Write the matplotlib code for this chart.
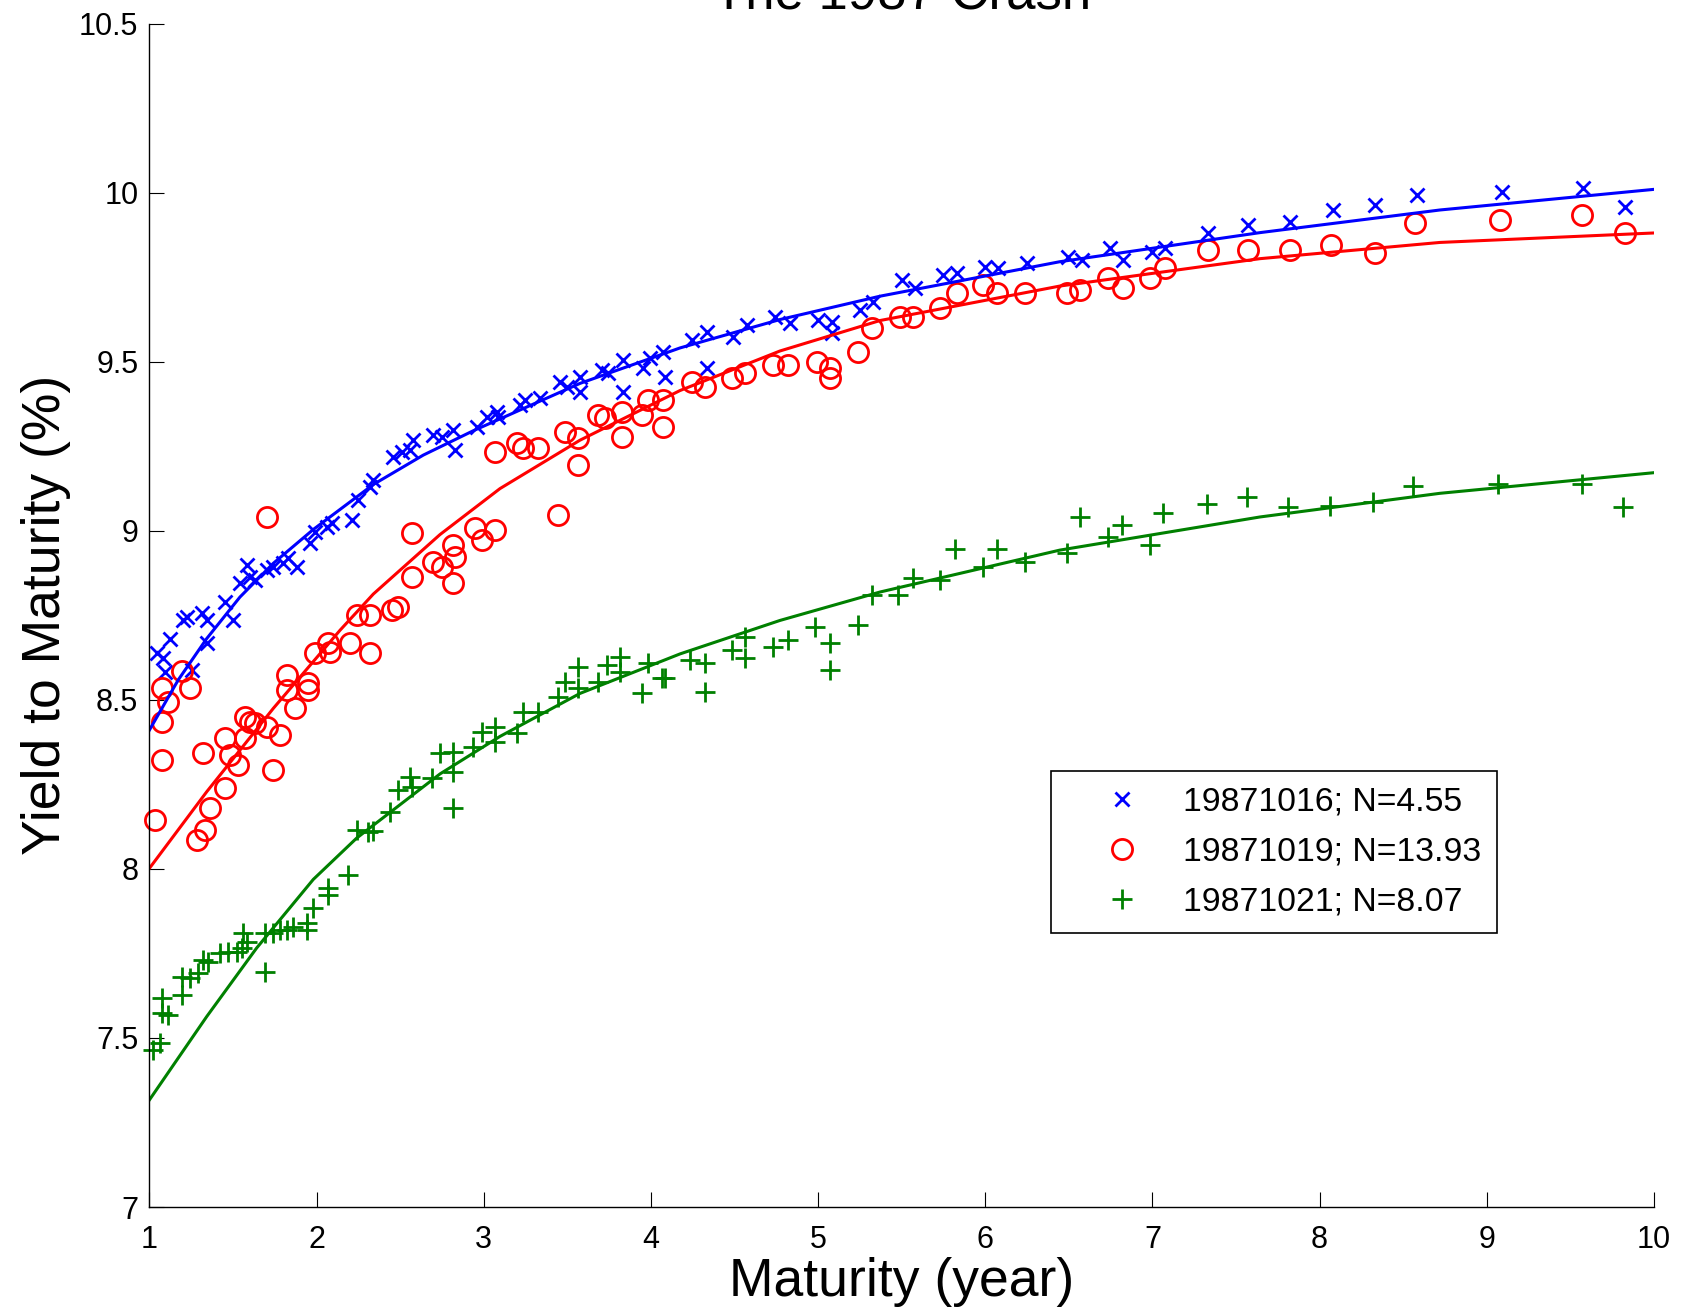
import matplotlib
matplotlib.use("Agg")
import matplotlib.pyplot as plt

plt.rcParams['font.family'] = ['Liberation Sans', 'DejaVu Sans']

# 19871016 observed yields
mat_1016 = [1.043, 1.083, 1.093, 1.123, 1.202, 1.222, 1.252, 1.312, 1.342, 1.342,
            1.452, 1.501, 1.541, 1.581, 1.601, 1.631, 1.701, 1.741, 1.800, 1.830,
            1.880, 1.960, 1.990, 2.060, 2.090, 2.210, 2.249, 2.319, 2.339, 2.458,
            2.509, 2.558, 2.578, 2.698, 2.748, 2.817, 2.827, 2.957, 3.017, 3.077,
            3.087, 3.216, 3.246, 3.336, 3.456, 3.496, 3.575, 3.575, 3.705, 3.745,
            3.834, 3.834, 3.954, 3.994, 4.074, 4.084, 4.243, 4.333, 4.333, 4.492,
            4.572, 4.742, 4.831, 5.001, 5.081, 5.081, 5.250, 5.330, 5.500, 5.579,
            5.749, 5.829, 5.998, 6.078, 6.247, 6.496, 6.576, 6.746, 6.825, 6.995,
            7.075, 7.334, 7.573, 7.822, 8.081, 8.331, 8.580, 9.089, 9.577, 9.826]
ytm_1016 = [8.638, 8.623, 8.583, 8.680, 8.736, 8.746, 8.588, 8.756, 8.736, 8.667,
            8.790, 8.736, 8.845, 8.899, 8.864, 8.855, 8.884, 8.894, 8.904, 8.919,
            8.894, 8.963, 8.998, 9.012, 9.022, 9.032, 9.091, 9.131, 9.150, 9.219,
            9.234, 9.239, 9.269, 9.284, 9.279, 9.298, 9.239, 9.308, 9.338, 9.352,
            9.338, 9.372, 9.387, 9.392, 9.441, 9.426, 9.456, 9.412, 9.476, 9.466,
            9.505, 9.412, 9.481, 9.510, 9.530, 9.456, 9.564, 9.589, 9.481, 9.574,
            9.609, 9.633, 9.614, 9.624, 9.619, 9.584, 9.653, 9.678, 9.742, 9.717,
            9.757, 9.762, 9.781, 9.777, 9.791, 9.811, 9.801, 9.836, 9.801, 9.826,
            9.836, 9.880, 9.905, 9.914, 9.949, 9.964, 9.993, 10.003, 10.013, 9.959]

# 19871019 observed yields
mat_1019 = [1.033, 1.073, 1.073, 1.073, 1.113, 1.197, 1.242, 1.282, 1.322, 1.332,
            1.362, 1.452, 1.452, 1.482, 1.531, 1.571, 1.571, 1.601, 1.631, 1.701,
            1.701, 1.741, 1.781, 1.820, 1.820, 1.870, 1.950, 1.950, 1.990, 2.070,
            2.080, 2.199, 2.239, 2.319, 2.319, 2.449, 2.489, 2.568, 2.568, 2.698,
            2.748, 2.817, 2.827, 2.817, 2.947, 2.987, 3.067, 3.067, 3.197, 3.236,
            3.326, 3.446, 3.486, 3.565, 3.565, 3.685, 3.725, 3.825, 3.825, 3.944,
            3.984, 4.074, 4.074, 4.243, 4.323, 4.483, 4.562, 4.732, 4.821, 4.991,
            5.071, 5.071, 5.240, 5.320, 5.490, 5.569, 5.729, 5.829, 5.988, 6.068,
            6.237, 6.487, 6.566, 6.736, 6.825, 6.985, 7.075, 7.334, 7.573, 7.822,
            8.071, 8.331, 8.570, 9.079, 9.568, 9.826]
ytm_1019 = [8.145, 8.322, 8.436, 8.534, 8.495, 8.585, 8.534, 8.086, 8.342, 8.115,
            8.179, 8.239, 8.386, 8.337, 8.307, 8.450, 8.386, 8.436, 8.431, 8.421,
            9.042, 8.293, 8.396, 8.574, 8.529, 8.475, 8.549, 8.529, 8.638, 8.667,
            8.643, 8.667, 8.751, 8.751, 8.638, 8.766, 8.776, 8.993, 8.864, 8.909,
            8.894, 8.958, 8.924, 8.845, 9.008, 8.973, 9.003, 9.234, 9.259, 9.244,
            9.244, 9.047, 9.293, 9.274, 9.195, 9.343, 9.333, 9.352, 9.278, 9.343,
            9.387, 9.387, 9.308, 9.441, 9.426, 9.451, 9.466, 9.491, 9.491, 9.500,
            9.481, 9.451, 9.530, 9.599, 9.633, 9.633, 9.658, 9.703, 9.727, 9.703,
            9.703, 9.703, 9.712, 9.747, 9.717, 9.747, 9.777, 9.831, 9.831, 9.831,
            9.845, 9.821, 9.910, 9.919, 9.934, 9.880]

# 19871021 observed yields
mat_1021 = [1.023, 1.063, 1.073, 1.073, 1.113, 1.192, 1.192, 1.242, 1.292, 1.322,
            1.352, 1.422, 1.471, 1.521, 1.551, 1.561, 1.581, 1.691, 1.691, 1.741,
            1.781, 1.820, 1.860, 1.940, 1.940, 1.980, 2.070, 2.070, 2.189, 2.239,
            2.309, 2.339, 2.439, 2.489, 2.558, 2.568, 2.688, 2.738, 2.817, 2.817,
            2.817, 2.937, 2.987, 3.067, 3.067, 3.197, 3.236, 3.326, 3.446, 3.486,
            3.565, 3.565, 3.685, 3.735, 3.815, 3.815, 3.944, 3.984, 4.064, 4.084,
            4.233, 4.323, 4.323, 4.483, 4.562, 4.562, 4.732, 4.821, 4.981, 5.071,
            5.071, 5.240, 5.320, 5.479, 5.569, 5.729, 5.818, 5.988, 6.068, 6.237,
            6.487, 6.566, 6.736, 6.816, 6.985, 7.065, 7.324, 7.563, 7.812, 8.061,
            8.321, 8.560, 9.069, 9.568, 9.816]
ytm_1021 = [7.464, 7.484, 7.617, 7.573, 7.568, 7.627, 7.681, 7.677, 7.691, 7.731,
            7.726, 7.750, 7.755, 7.755, 7.765, 7.810, 7.785, 7.696, 7.810, 7.810,
            7.819, 7.819, 7.829, 7.819, 7.839, 7.884, 7.923, 7.943, 7.982, 8.116,
            8.108, 8.112, 8.169, 8.234, 8.273, 8.243, 8.268, 8.342, 8.347, 8.288,
            8.179, 8.362, 8.406, 8.421, 8.376, 8.401, 8.465, 8.465, 8.509, 8.554,
            8.534, 8.598, 8.554, 8.603, 8.628, 8.583, 8.520, 8.608, 8.564, 8.564,
            8.618, 8.608, 8.524, 8.648, 8.687, 8.623, 8.657, 8.677, 8.717, 8.667,
            8.588, 8.722, 8.810, 8.810, 8.860, 8.855, 8.945, 8.894, 8.945, 8.909,
            8.935, 9.042, 8.983, 9.017, 8.958, 9.054, 9.079, 9.101, 9.071, 9.074,
            9.084, 9.133, 9.138, 9.138, 9.071]

# fitted curves
fit_mat_1016 = [1.0, 1.172, 1.342, 1.541, 1.741, 1.980, 2.339, 2.638, 2.937,
                3.575, 4.174, 4.772, 5.370, 6.446, 7.643, 8.720, 10.0]
fit_ytm_1016 = [8.411, 8.559, 8.681, 8.804, 8.904, 9.004, 9.137, 9.224, 9.296,
                9.436, 9.541, 9.625, 9.694, 9.796, 9.882, 9.949, 10.010]

fit_mat_1019 = [1.0, 1.342, 1.741, 2.140, 2.339, 2.738, 3.097, 3.575, 4.174,
                4.772, 5.370, 6.446, 7.643, 8.720, 10.0]
fit_ytm_1019 = [8.002, 8.228, 8.475, 8.706, 8.813, 8.989, 9.125, 9.268, 9.415,
                9.532, 9.622, 9.724, 9.805, 9.853, 9.881]

fit_mat_1021 = [1.0, 1.342, 1.641, 1.980, 2.239, 2.738, 3.097, 3.575, 4.174,
                4.772, 5.370, 6.446, 7.643, 8.720, 10.0]
fit_ytm_1021 = [7.317, 7.563, 7.766, 7.969, 8.091, 8.281, 8.392, 8.519, 8.636,
                8.735, 8.819, 8.943, 9.041, 9.111, 9.172]

labels = ['19871016; N=4.55', '19871019; N=13.93', '19871021; N=8.07']
xticks = [1, 2, 3, 4, 5, 6, 7, 8, 9, 10]
yticks = [7, 7.5, 8, 8.5, 9, 9.5, 10, 10.5]
ytick_labels = ['7', '7.5', '8', '8.5', '9', '9.5', '10', '10.5']


def main():
    fig = plt.figure(figsize=(16.87, 13.09), dpi=100)
    ax = fig.add_axes([0.0886, 0.0779, 0.8918, 0.9040])

    ms_kw = dict(linestyle='none', markerfacecolor='none', markeredgewidth=2.0, clip_on=False)
    ax.plot(mat_1016, ytm_1016, 'x', color='#0000ff', markersize=9.5, label=labels[0], **ms_kw)
    ax.plot(mat_1019, ytm_1019, 'o', color='#ff0000', markersize=14.5, label=labels[1], **ms_kw)
    ax.plot(mat_1021, ytm_1021, '+', color='#008000', markersize=15, label=labels[2], **ms_kw)

    ax.plot(fit_mat_1016, fit_ytm_1016, '-', color='#0000ff', linewidth=2.2)
    ax.plot(fit_mat_1019, fit_ytm_1019, '-', color='#ff0000', linewidth=2.2)
    ax.plot(fit_mat_1021, fit_ytm_1021, '-', color='#008000', linewidth=2.2)

    ax.set_xlim(1, 10)
    ax.set_ylim(7, 10.5)
    ax.set_xticks(xticks)
    ax.set_yticks(yticks)
    ax.set_yticklabels(ytick_labels)
    ax.tick_params(direction='in', length=10.8, width=0.8, labelsize=22)
    ax.tick_params(axis='x', pad=13)
    ax.tick_params(axis='y', pad=8)
    ax.spines['top'].set_visible(False)
    ax.spines['right'].set_visible(False)
    for side in ('left', 'bottom'):
        ax.spines[side].set_linewidth(1.0)

    ax.set_title('The 1987 Crash', fontsize=38, pad=11)
    ax.set_xlabel('Maturity (year)', fontsize=38.5)
    ax.set_ylabel('Yield to Maturity (%)', fontsize=38.5)
    ax.xaxis.set_label_coords(0.5, -0.042)
    ax.yaxis.set_label_coords(-0.052, 0.5)

    leg = ax.legend(loc='upper left', bbox_to_anchor=(0.5992, 0.3685), borderaxespad=0,
                    fontsize=24.3, fancybox=False, framealpha=1, edgecolor='black',
                    borderpad=0.46, handlelength=3.27, handletextpad=0.18, labelspacing=0.567)
    leg.get_frame().set_linewidth(1.2)

    fig.savefig('out.png', dpi=100)


if __name__ == "__main__":
    main()
